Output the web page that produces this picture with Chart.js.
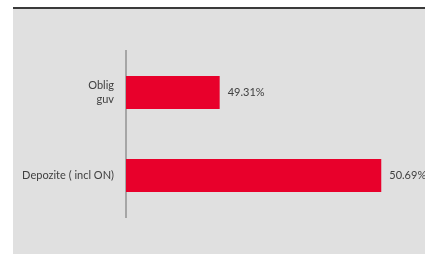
<!DOCTYPE html>
<html>
<head>
<meta charset="utf-8">
<script src="https://cdn.jsdelivr.net/npm/chart.js@4.4.0/dist/chart.umd.min.js"></script>
<style>
  html, body { margin: 0; padding: 0; background: #fff; }
  #box {
    position: absolute; left: 13px; top: 7px;
    width: 412px; height: 245px;
    background: #e0e0e0;
    border-top: 2px solid #3a3a3a;
  }
  canvas { display: block; }
</style>
</head>
<body>
<div id="box"><canvas id="allocChart" width="412" height="245"></canvas></div>
<script>
// Alocare active
const categories = [['Oblig', 'guv'], 'Depozite ( incl ON)'];
const shares = [49.31, 50.69];
const axisMin = 48.51;
const axisMax = 50.85;

// etichete cu procent la capatul barei
const valueLabels = {
    id: 'valueLabels',
    afterDatasetsDraw(chart) {
        const ctx = chart.ctx;
        const meta = chart.getDatasetMeta(0);
        ctx.save();
        ctx.font = '11px Lato';
        ctx.fillStyle = '#404040';
        ctx.textAlign = 'left';
        ctx.textBaseline = 'middle';
        meta.data.forEach((bar, i) => {
            ctx.fillText(shares[i].toFixed(2) + '%', bar.x + 8, bar.y);
        });
        ctx.restore();
    }
};

const ctx = document.getElementById('allocChart').getContext('2d');
new Chart(ctx, {
    type: 'bar',
    data: {
        labels: categories,
        datasets: [{
            data: shares,
            backgroundColor: '#e8002b',
            barPercentage: 0.4,
            categoryPercentage: 1
        }]
    },
    options: {
        indexAxis: 'y',
        responsive: false,
        animation: false,
        layout: { padding: { left: 0, right: 25, top: 42, bottom: 37 } },
        plugins: {
            legend: { display: false },
            tooltip: { enabled: false }
        },
        scales: {
            x: {
                display: false,
                min: axisMin,
                max: axisMax
            },
            y: {
                grid: { display: false, drawTicks: false },
                border: { display: true, color: '#a6a6a6', width: 2 },
                ticks: {
                    color: '#404040',
                    font: { family: 'Lato', size: 11 },
                    padding: 12
                },
                afterFit(scale) { scale.width = 113; }
            }
        }
    },
    plugins: [valueLabels]
});
</script>
</body>
</html>
